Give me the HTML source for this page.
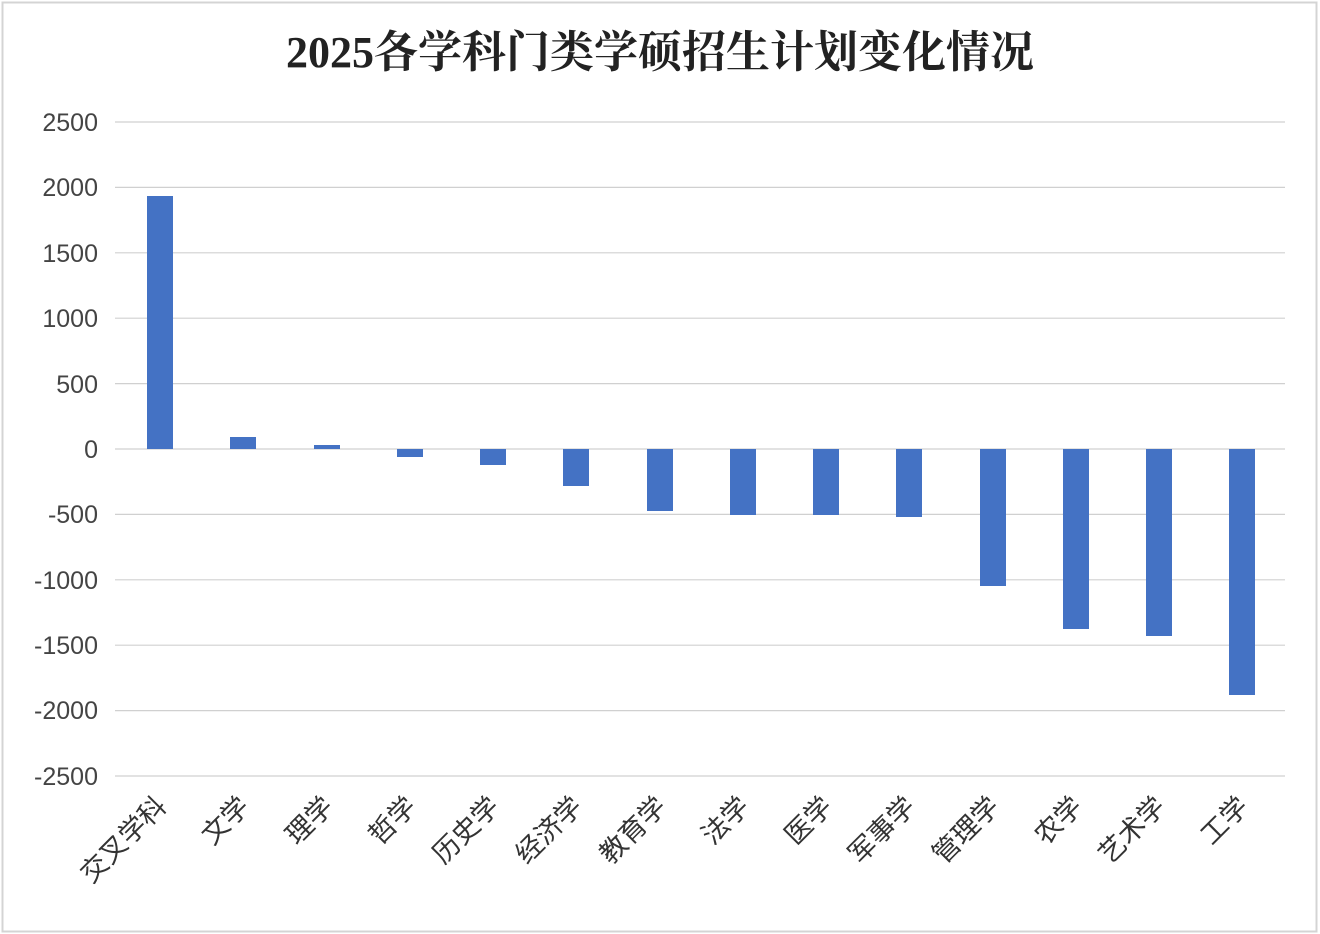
<!DOCTYPE html>
<html><head><meta charset="utf-8"><style>
html,body{margin:0;padding:0;background:#fff;}
svg{display:block;}
</style></head><body>
<svg width="1320" height="934" xmlns="http://www.w3.org/2000/svg">
<rect x="2.5" y="2.5" width="1314" height="929" fill="#fff" stroke="#d4d4d4" stroke-width="2"/>
<text x="660" y="67" text-anchor="middle" font-family="'Liberation Serif','Noto Serif CJK SC',serif" font-size="44" font-weight="bold" fill="#222">2025各学科门类学硕招生计划变化情况</text>
<g stroke="#d0d0d0" stroke-width="1.2">
<line x1="115" x2="1285" y1="122" y2="122"/>
<line x1="115" x2="1285" y1="187.4" y2="187.4"/>
<line x1="115" x2="1285" y1="252.8" y2="252.8"/>
<line x1="115" x2="1285" y1="318.2" y2="318.2"/>
<line x1="115" x2="1285" y1="383.6" y2="383.6"/>
<line x1="115" x2="1285" y1="449" y2="449"/>
<line x1="115" x2="1285" y1="514.4" y2="514.4"/>
<line x1="115" x2="1285" y1="579.8" y2="579.8"/>
<line x1="115" x2="1285" y1="645.2" y2="645.2"/>
<line x1="115" x2="1285" y1="710.6" y2="710.6"/>
<line x1="115" x2="1285" y1="776" y2="776"/>
</g>
<g font-family="'Liberation Sans',sans-serif" font-size="25" fill="#444" text-anchor="end">
<text x="98" y="131">2500</text>
<text x="98" y="196">2000</text>
<text x="98" y="262">1500</text>
<text x="98" y="327">1000</text>
<text x="98" y="393">500</text>
<text x="98" y="458">0</text>
<text x="98" y="523">-500</text>
<text x="98" y="589">-1000</text>
<text x="98" y="654">-1500</text>
<text x="98" y="719">-2000</text>
<text x="98" y="785">-2500</text>
</g>
<g fill="#4472c4">
<rect x="147" y="196" width="26" height="253"/>
<rect x="230" y="437" width="26" height="12"/>
<rect x="314" y="445" width="26" height="4"/>
<rect x="397" y="449" width="26" height="8"/>
<rect x="480" y="449" width="26" height="16"/>
<rect x="563" y="449" width="26" height="37"/>
<rect x="647" y="449" width="26" height="62"/>
<rect x="730" y="449" width="26" height="66"/>
<rect x="813" y="449" width="26" height="66"/>
<rect x="896" y="449" width="26" height="68"/>
<rect x="980" y="449" width="26" height="137"/>
<rect x="1063" y="449" width="26" height="180"/>
<rect x="1146" y="449" width="26" height="187"/>
<rect x="1229" y="449" width="26" height="246"/>
</g>
<g font-family="'Liberation Sans','Noto Sans CJK SC',sans-serif" font-size="27" fill="#333" text-anchor="end">
<text transform="translate(168,808) rotate(-45)">交叉学科</text>
<text transform="translate(251,808) rotate(-45)">文学</text>
<text transform="translate(335,808) rotate(-45)">理学</text>
<text transform="translate(418,808) rotate(-45)">哲学</text>
<text transform="translate(501,808) rotate(-45)">历史学</text>
<text transform="translate(584,808) rotate(-45)">经济学</text>
<text transform="translate(668,808) rotate(-45)">教育学</text>
<text transform="translate(751,808) rotate(-45)">法学</text>
<text transform="translate(834,808) rotate(-45)">医学</text>
<text transform="translate(917,808) rotate(-45)">军事学</text>
<text transform="translate(1001,808) rotate(-45)">管理学</text>
<text transform="translate(1084,808) rotate(-45)">农学</text>
<text transform="translate(1167,808) rotate(-45)">艺术学</text>
<text transform="translate(1250,808) rotate(-45)">工学</text>
</g>
</svg>
</body></html>
